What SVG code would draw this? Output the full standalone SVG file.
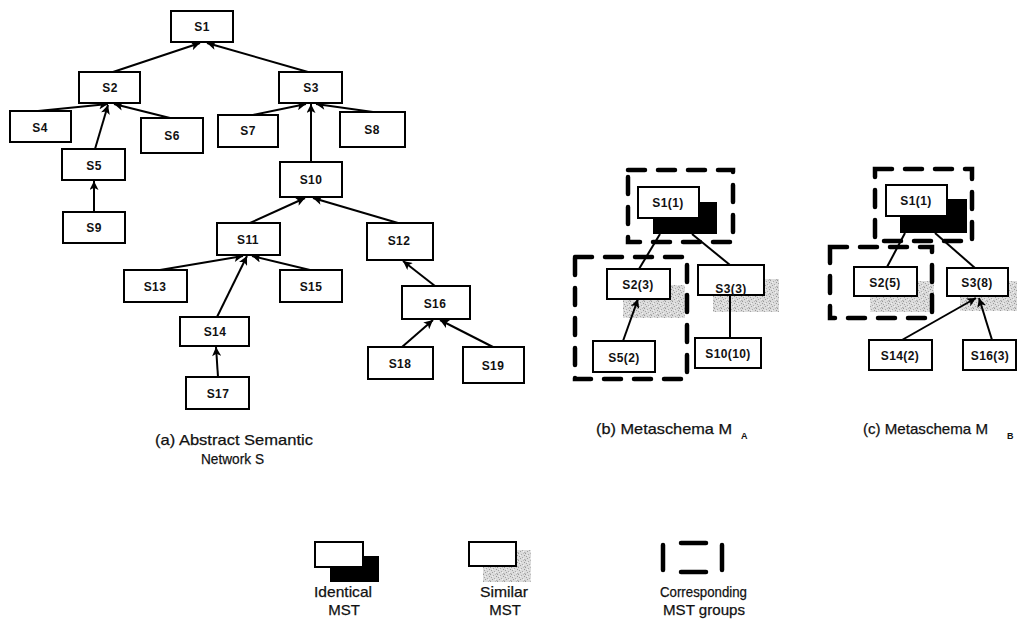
<svg xmlns="http://www.w3.org/2000/svg" width="1017" height="625" viewBox="0 0 1017 625">
  <defs>
    <style>
      .box { fill: #fff; stroke: #000; stroke-width: 2; }
      .lbl { font-family: "Liberation Sans", Arial, sans-serif; font-size: 12px; font-weight: bold; text-anchor: middle; fill: #111; letter-spacing: 0.4px; }
      .cap { font-family: "Liberation Sans", Arial, sans-serif; font-size: 15px; fill: #111; stroke: #111; stroke-width: 0.25px; }
      .sub { font-family: "Liberation Sans", Arial, sans-serif; font-size: 9px; font-weight: bold; fill: #111; }
      .edge { stroke: #000; stroke-width: 2; fill: none; }
      .arrow { marker-end: url(#head); }
      .group { fill: none; stroke: #000; stroke-width: 4.5; stroke-dasharray: 17 13; stroke-linecap: round; }
      .ident { fill: #000; }
      .simil { fill: url(#stipple); }
    </style>
    <marker id="head" viewBox="0 0 10 10" refX="10" refY="5" markerWidth="11" markerHeight="9" markerUnits="userSpaceOnUse" orient="auto">
      <path d="M0,0 L10,5 L0,10 L2.5,5 z" fill="#000"/>
    </marker>
    <!-- scattered grey dots for the "similar" shading -->
    <pattern id="stipple" width="7" height="7" patternUnits="userSpaceOnUse">
      <rect width="7" height="7" fill="#dcdcdc"/>
      <rect x="0" y="0" width="1" height="1" fill="#999"/>
      <rect x="3" y="1" width="1" height="1" fill="#aaa"/>
      <rect x="5" y="0" width="1" height="1" fill="#bbb"/>
      <rect x="1" y="3" width="1" height="1" fill="#a3a3a3"/>
      <rect x="6" y="2" width="1" height="1" fill="#999"/>
      <rect x="4" y="4" width="1" height="1" fill="#aaa"/>
      <rect x="2" y="5" width="1" height="1" fill="#9e9e9e"/>
      <rect x="6" y="6" width="1" height="1" fill="#b0b0b0"/>
      <rect x="0" y="6" width="1" height="1" fill="#c4c4c4"/>
      <rect x="5" y="5" width="1" height="1" fill="#f2f2f2"/>
      <rect x="2" y="2" width="1" height="1" fill="#f0f0f0"/>
    </pattern>
  </defs>

  <rect width="1017" height="625" fill="#fff"/>

  <!-- (a) abstract semantic network: connectors -->
  <g id="edges-a">
    <line class="edge arrow" x1="113" y1="72" x2="200" y2="43"/>
    <line class="edge arrow" x1="308" y1="72" x2="207" y2="43"/>
    <line class="edge arrow" x1="38" y1="111" x2="108" y2="104"/>
    <line class="edge arrow" x1="95" y1="149" x2="108" y2="105"/>
    <line class="edge arrow" x1="170" y1="118" x2="114" y2="104"/>
    <line class="edge arrow" x1="253" y1="115" x2="306" y2="104"/>
    <line class="edge arrow" x1="311" y1="162" x2="311" y2="104"/>
    <line class="edge arrow" x1="373" y1="112" x2="316" y2="104"/>
    <line class="edge arrow" x1="94" y1="212" x2="94" y2="181"/>
    <line class="edge arrow" x1="250" y1="223" x2="305" y2="198"/>
    <line class="edge arrow" x1="398" y1="223" x2="313" y2="198"/>
    <line class="edge arrow" x1="160" y1="270" x2="243" y2="256"/>
    <line class="edge arrow" x1="217" y1="317" x2="247" y2="256"/>
    <line class="edge arrow" x1="310" y1="270" x2="252" y2="256"/>
    <line class="edge arrow" x1="435" y1="286" x2="403" y2="261"/>
    <line class="edge arrow" x1="402" y1="347" x2="433" y2="320"/>
    <line class="edge arrow" x1="493" y1="347" x2="440" y2="320"/>
    <line class="edge arrow" x1="218" y1="377" x2="216" y2="347"/>
  </g>

  <!-- (a) nodes -->
  <g id="a-S1"><rect class="box" x="171" y="11" width="62" height="31"/><text class="lbl" x="202" y="31">S1</text></g>
  <g id="a-S2"><rect class="box" x="79" y="72" width="61" height="31"/><text class="lbl" x="110" y="92">S2</text></g>
  <g id="a-S3"><rect class="box" x="279" y="72" width="63" height="31"/><text class="lbl" x="311" y="92">S3</text></g>
  <g id="a-S4"><rect class="box" x="10" y="111" width="61" height="31"/><text class="lbl" x="40" y="132">S4</text></g>
  <g id="a-S6"><rect class="box" x="141" y="118" width="62" height="35"/><text class="lbl" x="172" y="140">S6</text></g>
  <g id="a-S7"><rect class="box" x="218" y="115" width="60" height="32"/><text class="lbl" x="248" y="135">S7</text></g>
  <g id="a-S8"><rect class="box" x="340" y="112" width="65" height="35"/><text class="lbl" x="372" y="134">S8</text></g>
  <g id="a-S5"><rect class="box" x="62" y="149" width="63" height="31"/><text class="lbl" x="94" y="170">S5</text></g>
  <g id="a-S9"><rect class="box" x="63" y="212" width="62" height="31"/><text class="lbl" x="94" y="232">S9</text></g>
  <g id="a-S10"><rect class="box" x="280" y="162" width="62" height="35"/><text class="lbl" x="311" y="184">S10</text></g>
  <g id="a-S11"><rect class="box" x="217" y="223" width="63" height="32"/><text class="lbl" x="248" y="244">S11</text></g>
  <g id="a-S12"><rect class="box" x="367" y="223" width="66" height="37"/><text class="lbl" x="399" y="245">S12</text></g>
  <g id="a-S13"><rect class="box" x="124" y="270" width="63" height="32"/><text class="lbl" x="155" y="291">S13</text></g>
  <g id="a-S15"><rect class="box" x="280" y="270" width="62" height="32"/><text class="lbl" x="311" y="291">S15</text></g>
  <g id="a-S16"><rect class="box" x="402" y="286" width="68" height="33"/><text class="lbl" x="435" y="308">S16</text></g>
  <g id="a-S14"><rect class="box" x="180" y="317" width="69" height="29"/><text class="lbl" x="215" y="336">S14</text></g>
  <g id="a-S18"><rect class="box" x="368" y="347" width="65" height="32"/><text class="lbl" x="400" y="368">S18</text></g>
  <g id="a-S19"><rect class="box" x="463" y="347" width="61" height="36"/><text class="lbl" x="493" y="370">S19</text></g>
  <g id="a-S17"><rect class="box" x="186" y="377" width="63" height="32"/><text class="lbl" x="218" y="398">S17</text></g>

  <text class="cap" x="155" y="445" textLength="158" lengthAdjust="spacingAndGlyphs">(a)  Abstract Semantic</text>
  <text class="cap" x="201" y="464" textLength="63" lengthAdjust="spacingAndGlyphs">Network S</text>

  <!-- (b) metaschema M_A -->
  <g id="b-marks">
    <rect class="ident" x="653" y="202" width="64" height="32"/>
    <rect class="simil" x="623" y="285" width="62" height="33"/>
    <rect class="simil" x="713" y="279" width="66" height="33"/>
  </g>
  <g id="edges-b">
    <line class="edge" x1="660" y1="234" x2="639" y2="269"/>
    <line class="edge" x1="692" y1="234" x2="730" y2="265"/>
    <line class="edge arrow" x1="623" y1="341" x2="638" y2="299"/>
    <line class="edge" x1="730" y1="295" x2="730" y2="338"/>
  </g>
  <g id="b-S1"><rect class="box" x="638" y="187" width="61" height="31"/><text class="lbl" x="668" y="207">S1(1)</text></g>
  <g id="b-S2"><rect class="box" x="607" y="269" width="63" height="30"/><text class="lbl" x="638" y="289">S2(3)</text></g>
  <g id="b-S3"><rect class="box" x="698" y="265" width="66" height="30"/><text class="lbl" x="731" y="293">S3(3)</text></g>
  <g id="b-S5"><rect class="box" x="593" y="341" width="62" height="31"/><text class="lbl" x="624" y="362">S5(2)</text></g>
  <g id="b-S10"><rect class="box" x="695" y="338" width="66" height="30"/><text class="lbl" x="728" y="358">S10(10)</text></g>
  <g id="b-groups">
    <rect class="group" x="628" y="170" width="105" height="72"/>
    <rect class="group" x="575" y="257" width="112" height="122"/>
  </g>
  <text class="cap" x="596" y="434" textLength="136" lengthAdjust="spacingAndGlyphs">(b) Metaschema  M</text>
  <text class="sub" x="741" y="439">A</text>

  <!-- (c) metaschema M_B -->
  <g id="c-marks">
    <rect class="ident" x="900" y="199" width="67" height="34"/>
    <rect class="simil" x="870" y="281" width="64" height="31"/>
    <rect class="simil" x="960" y="281" width="57" height="30"/>
  </g>
  <g id="edges-c">
    <line class="edge" x1="905" y1="233" x2="887" y2="267"/>
    <line class="edge" x1="935" y1="233" x2="975" y2="268"/>
    <line class="edge arrow" x1="902" y1="340" x2="976" y2="298"/>
    <line class="edge arrow" x1="992" y1="340" x2="979" y2="298"/>
  </g>
  <g id="c-S1"><rect class="box" x="886" y="185" width="61" height="31"/><text class="lbl" x="916" y="205">S1(1)</text></g>
  <g id="c-S2"><rect class="box" x="854" y="267" width="63" height="29"/><text class="lbl" x="885" y="287">S2(5)</text></g>
  <g id="c-S3"><rect class="box" x="947" y="268" width="61" height="28"/><text class="lbl" x="977" y="287">S3(8)</text></g>
  <g id="c-S14"><rect class="box" x="869" y="340" width="63" height="30"/><text class="lbl" x="900" y="360">S14(2)</text></g>
  <g id="c-S16"><rect class="box" x="963" y="340" width="53" height="30"/><text class="lbl" x="990" y="360">S16(3)</text></g>
  <g id="c-groups">
    <rect class="group" x="875" y="169" width="97" height="72"/>
    <rect class="group" x="830" y="247" width="102" height="71"/>
  </g>
  <text class="cap" x="863" y="434" textLength="125" lengthAdjust="spacingAndGlyphs">(c) Metaschema  M</text>
  <text class="sub" x="1007" y="439">B</text>

  <!-- legend -->
  <g id="legend-identical">
    <rect class="ident" x="330" y="556" width="49" height="26"/>
    <rect class="box" x="315" y="542" width="48" height="25"/>
    <text class="cap" x="314" y="597" textLength="58" lengthAdjust="spacingAndGlyphs">Identical</text>
    <text class="cap" x="344" y="615" text-anchor="middle">MST</text>
  </g>
  <g id="legend-similar">
    <rect class="simil" x="483" y="550" width="48" height="32"/>
    <rect class="box" x="469" y="542" width="47" height="24"/>
    <text class="cap" x="480" y="597" textLength="48" lengthAdjust="spacingAndGlyphs">Similar</text>
    <text class="cap" x="505" y="615" text-anchor="middle">MST</text>
  </g>
  <g id="legend-groups">
    <line x1="663" y1="545" x2="663" y2="570" stroke="#000" stroke-width="4.5" stroke-linecap="round"/>
    <line x1="722" y1="545" x2="722" y2="570" stroke="#000" stroke-width="4.5" stroke-linecap="round"/>
    <line x1="681" y1="543" x2="706" y2="543" stroke="#000" stroke-width="4.5" stroke-linecap="round"/>
    <line x1="681" y1="572" x2="706" y2="572" stroke="#000" stroke-width="4.5" stroke-linecap="round"/>
    <text class="cap" x="660" y="597" textLength="87" lengthAdjust="spacingAndGlyphs">Corresponding</text>
    <text class="cap" x="663" y="615" textLength="82" lengthAdjust="spacingAndGlyphs">MST groups</text>
  </g>
</svg>
